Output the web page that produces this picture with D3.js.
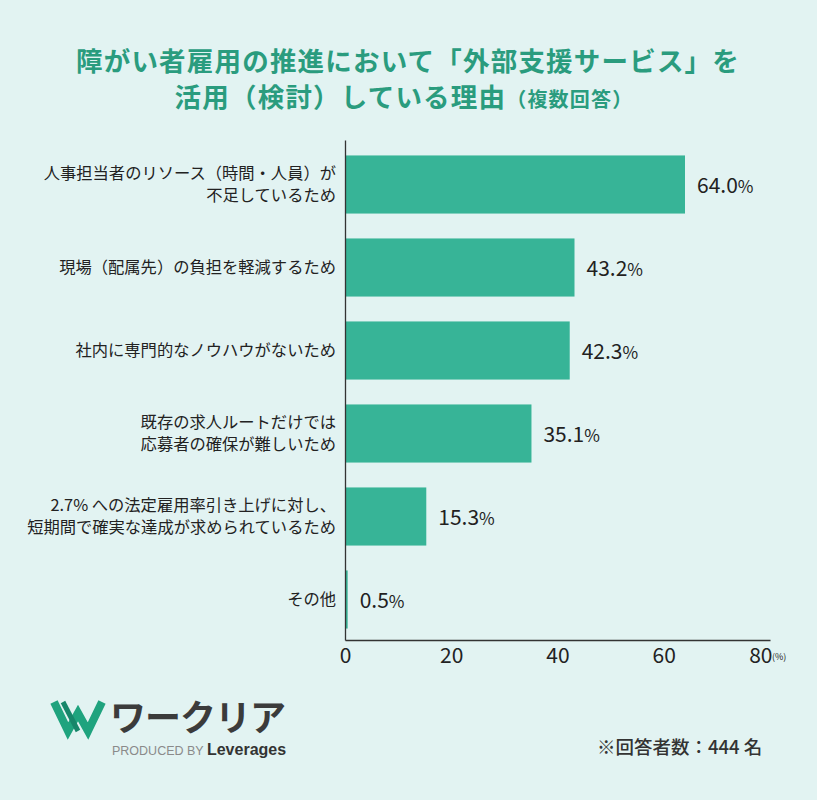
<!DOCTYPE html>
<html><head><meta charset="utf-8">
<script src="https://cdn.jsdelivr.net/npm/d3@7"></script>
<style>body{margin:0;background:#e2f3f2;}svg{display:block;}</style>
</head><body>
<script>
const categories = [
  ["人事担当者のリソース（時間・人員）が","不足しているため"],
  ["現場（配属先）の負担を軽減するため"],
  ["社内に専門的なノウハウがないため"],
  ["既存の求人ルートだけでは","応募者の確保が難しいため"],
  ["2.7% への法定雇用率引き上げに対し、","短期間で確実な達成が求められているため"],
  ["その他"]
];
const values = [64.0, 43.2, 42.3, 35.1, 15.3, 0.5];
const ticks = [0, 20, 40, 60, 80];
const titleLines = ["障がい者雇用の推進において「外部支援サービス」を", "活用（検討）している理由"];
const titleNote = "（複数回答）";
const footnote = "※回答者数：444 名";

const W = 817, H = 800;
const font = "'Noto Sans CJK JP','Noto Sans',sans-serif";
const svg = d3.select("body").append("svg").attr("width", W).attr("height", H);
svg.append("rect").attr("width", W).attr("height", H).attr("fill", "#e2f3f2");

// Title
const tcol = "#2a9c7e";
svg.append("text").attr("x", 408).attr("y", 71).attr("text-anchor", "middle")
  .attr("font-family", font).attr("font-weight", 700).attr("font-size", 26.5)
  .attr("fill", tcol).attr("letter-spacing", 1.2).text(titleLines[0]);
const t2 = svg.append("text").attr("x", 404).attr("y", 107).attr("text-anchor", "middle")
  .attr("font-family", font).attr("font-weight", 700).attr("fill", tcol).attr("letter-spacing", 1.2);
t2.append("tspan").attr("font-size", 26.5).text(titleLines[1]);
t2.append("tspan").attr("font-size", 20).text(titleNote);

const x = d3.scaleLinear().domain([0, 80]).range([345, 770]);
const y = d3.scaleBand().domain(d3.range(categories.length)).range([143, 641])
  .paddingInner(0.3).paddingOuter(0.15);

// bars
svg.selectAll("rect.bar").data(values).join("rect").attr("class", "bar")
  .attr("x", x(0)).attr("y", (d, i) => y(i))
  .attr("width", d => x(d) - x(0)).attr("height", y.bandwidth())
  .attr("fill", "#37b497");

// value labels
const vl = svg.selectAll("text.val").data(values).join("text").attr("class", "val")
  .attr("x", d => x(d) + 12).attr("y", (d, i) => y(i) + y.bandwidth() / 2 + 8)
  .attr("font-family", font).attr("font-weight", 400).attr("fill", "#231f1f");
vl.append("tspan").attr("font-size", 21).text(d => d.toFixed(1));
vl.append("tspan").attr("font-size", 17).text("%");

// category labels
categories.forEach((lines, i) => {
  const cy = y(i) + y.bandwidth() / 2;
  const lh = 22;
  const t = svg.append("text").attr("text-anchor", "end").attr("font-family", font)
    .attr("font-size", 16.3).attr("fill", "#222");
  lines.forEach((l, j) => {
    t.append("tspan").attr("x", 336)
      .attr("y", cy + 5.5 + (j - (lines.length - 1) / 2) * lh).text(l);
  });
});

// axes
const xAxis = d3.axisBottom(x).tickValues(ticks).tickSize(0).tickPadding(8);
const gx = svg.append("g").attr("transform", "translate(0,640)").call(xAxis);
gx.select(".domain").attr("stroke", "#333").attr("stroke-width", 1.3);
gx.selectAll("text").attr("font-family", font).attr("font-size", 21).attr("fill", "#222");
gx.selectAll(".tick").filter(d => d === 80).select("text").attr("text-anchor", "end").attr("x", 2);
svg.append("text").attr("x", 772).attr("y", 660).attr("font-family", font)
  .attr("font-size", 9).attr("fill", "#222").text("(%)");
const yAxis = d3.axisLeft(d3.scaleLinear().range([140, 640])).ticks(0).tickSize(0);
const gy = svg.append("g").attr("transform", "translate(345,0)").call(yAxis);
gy.select(".domain").attr("stroke", "#333").attr("stroke-width", 1.3);

// logo
const lg = svg.append("g");
lg.append("path").attr("d", "M54,702 L68,731 L78,713 L88,731 L102,702")
  .attr("fill", "none").attr("stroke", "#1fa37e").attr("stroke-width", 8)
  .attr("stroke-linejoin", "miter").attr("stroke-linecap", "butt");
lg.append("path").attr("d", "M63,702 L78,731")
  .attr("fill", "none").attr("stroke", "#17866a").attr("stroke-width", 5);
lg.append("text").attr("x", 110).attr("y", 731).attr("font-family", font)
  .attr("font-weight", 700).attr("font-size", 36).attr("fill", "#3b3b3b")
  .attr("letter-spacing", -1).text("ワークリア");
const pb = lg.append("text").attr("x", 112).attr("y", 755).attr("font-family", "'Liberation Sans',Arial,sans-serif");
pb.append("tspan").attr("font-size", 12.5).attr("fill", "#8a8a8a").text("PRODUCED BY ");
pb.append("tspan").attr("font-size", 16).attr("font-weight", 700).attr("fill", "#333").text("Leverages");

svg.append("text").attr("x", 597).attr("y", 754).attr("font-family", font)
  .attr("font-size", 18.5).attr("font-weight", 500).attr("fill", "#333").text(footnote);
</script>
</body></html>
